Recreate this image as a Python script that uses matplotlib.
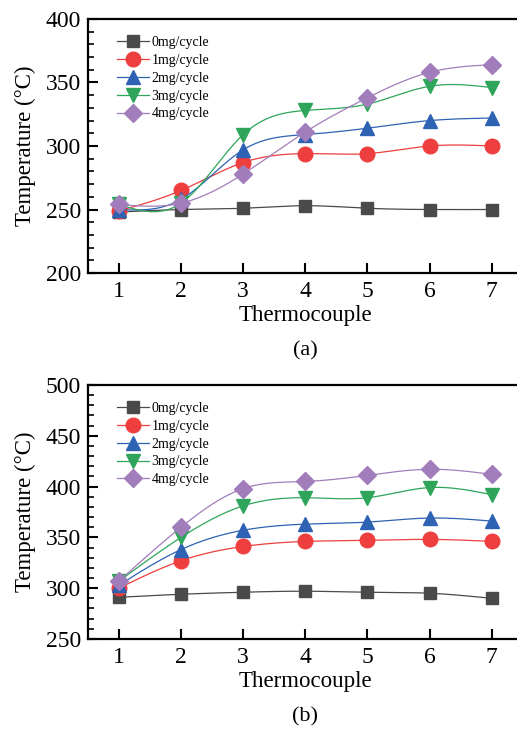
import numpy as np
import matplotlib
matplotlib.use('Agg')
import matplotlib.pyplot as plt
from matplotlib.ticker import MultipleLocator

plt.rcParams['font.family'] = ['Liberation Serif', 'DejaVu Serif']

# --- Data ---
thermocouple = [1, 2, 3, 4, 5, 6, 7]
labels = ['0mg/cycle', '1mg/cycle', '2mg/cycle', '3mg/cycle', '4mg/cycle']

temps_a = [
    [248, 250, 251, 253, 251, 250, 250],
    [249, 265, 287, 294, 294, 300, 300],
    [250, 258, 297, 309, 314, 320, 322],
    [254, 255, 309, 328, 333, 347, 346],
    [254, 255, 278, 311, 338, 358, 364],
]
temps_b = [
    [291, 294, 296, 297, 296, 295, 290],
    [300, 327, 341, 346, 347, 348, 346],
    [303, 338, 357, 363, 365, 369, 366],
    [307, 350, 381, 389, 389, 399, 392],
    [307, 360, 398, 405, 411, 417, 412],
]

colors = ['#4a4a4a', '#ee3e3e', '#2e62b3', '#2ea55a', '#a27dbb']
markers = ['s', 'o', '^', 'v', 'D']
msizes = [9, 10.5, 10.5, 10.5, 9]


def natural_spline(x, y, n=200):
    # natural cubic spline through the points, just for the smooth line
    x = np.asarray(x, float)
    y = np.asarray(y, float)
    k = len(x)
    h = np.diff(x)
    A = np.zeros((k, k))
    r = np.zeros(k)
    A[0, 0] = A[-1, -1] = 1
    for i in range(1, k - 1):
        A[i, i - 1] = h[i - 1]
        A[i, i] = 2 * (h[i - 1] + h[i])
        A[i, i + 1] = h[i]
        r[i] = 6 * ((y[i + 1] - y[i]) / h[i] - (y[i] - y[i - 1]) / h[i - 1])
    M = np.linalg.solve(A, r)
    xs = np.linspace(x[0], x[-1], n)
    idx = np.clip(np.searchsorted(x, xs) - 1, 0, k - 2)
    x0, x1 = x[idx], x[idx + 1]
    hh = x1 - x0
    t0, t1 = x1 - xs, xs - x0
    ys = (M[idx] * t0**3 + M[idx + 1] * t1**3) / (6 * hh) \
        + (y[idx] / hh - M[idx] * hh / 6) * t0 \
        + (y[idx + 1] / hh - M[idx + 1] * hh / 6) * t1
    return xs, ys


fig = plt.figure(figsize=(5.17, 7.30), dpi=100)
ax_a = fig.add_axes([0.170, 0.626, 0.841, 0.348])
ax_b = fig.add_axes([0.170, 0.1247, 0.841, 0.348])


def draw(ax, data, ylim, tag):
    for vals, c, m, ms, lab in zip(data, colors, markers, msizes, labels):
        xs, ys = natural_spline(thermocouple, vals)
        ax.plot(xs, ys, color=c, lw=0.9)
        ax.plot(thermocouple, vals, linestyle='none', marker=m, ms=ms,
                color=c, mec=c)
        ax.plot([], [], color=c, lw=0.9, marker=m, ms=ms, mec=c, label=lab)
    ax.set_xlim(0.5, 7.5)
    ax.set_ylim(*ylim)
    ax.set_xticks(thermocouple)
    ax.yaxis.set_major_locator(MultipleLocator(50))
    ax.yaxis.set_minor_locator(MultipleLocator(10))
    ax.tick_params(axis='both', which='major', direction='in', length=7,
                   width=1.5, labelsize=17, pad=5)
    ax.tick_params(axis='x', which='major', pad=6)
    ax.tick_params(axis='y', which='minor', direction='in', length=4, width=1.2)
    for s in ax.spines.values():
        s.set_linewidth(1.6)
    ax.set_xlabel('Thermocouple', fontsize=16.5, labelpad=2)
    ax.set_ylabel('Temperature (°C)', fontsize=16.5, labelpad=7)
    ax.text(0.5, -0.305, tag, transform=ax.transAxes,
            ha='center', va='center', fontsize=16)
    ax.legend(loc='upper left', bbox_to_anchor=(0.055, 0.955), frameon=False,
              fontsize=10, handlelength=2.3, handletextpad=0.15,
              labelspacing=0.35, borderaxespad=0)


draw(ax_a, temps_a, (200, 400), '(a)')
draw(ax_b, temps_b, (250, 500), '(b)')

fig.savefig('out.png', dpi=100)
